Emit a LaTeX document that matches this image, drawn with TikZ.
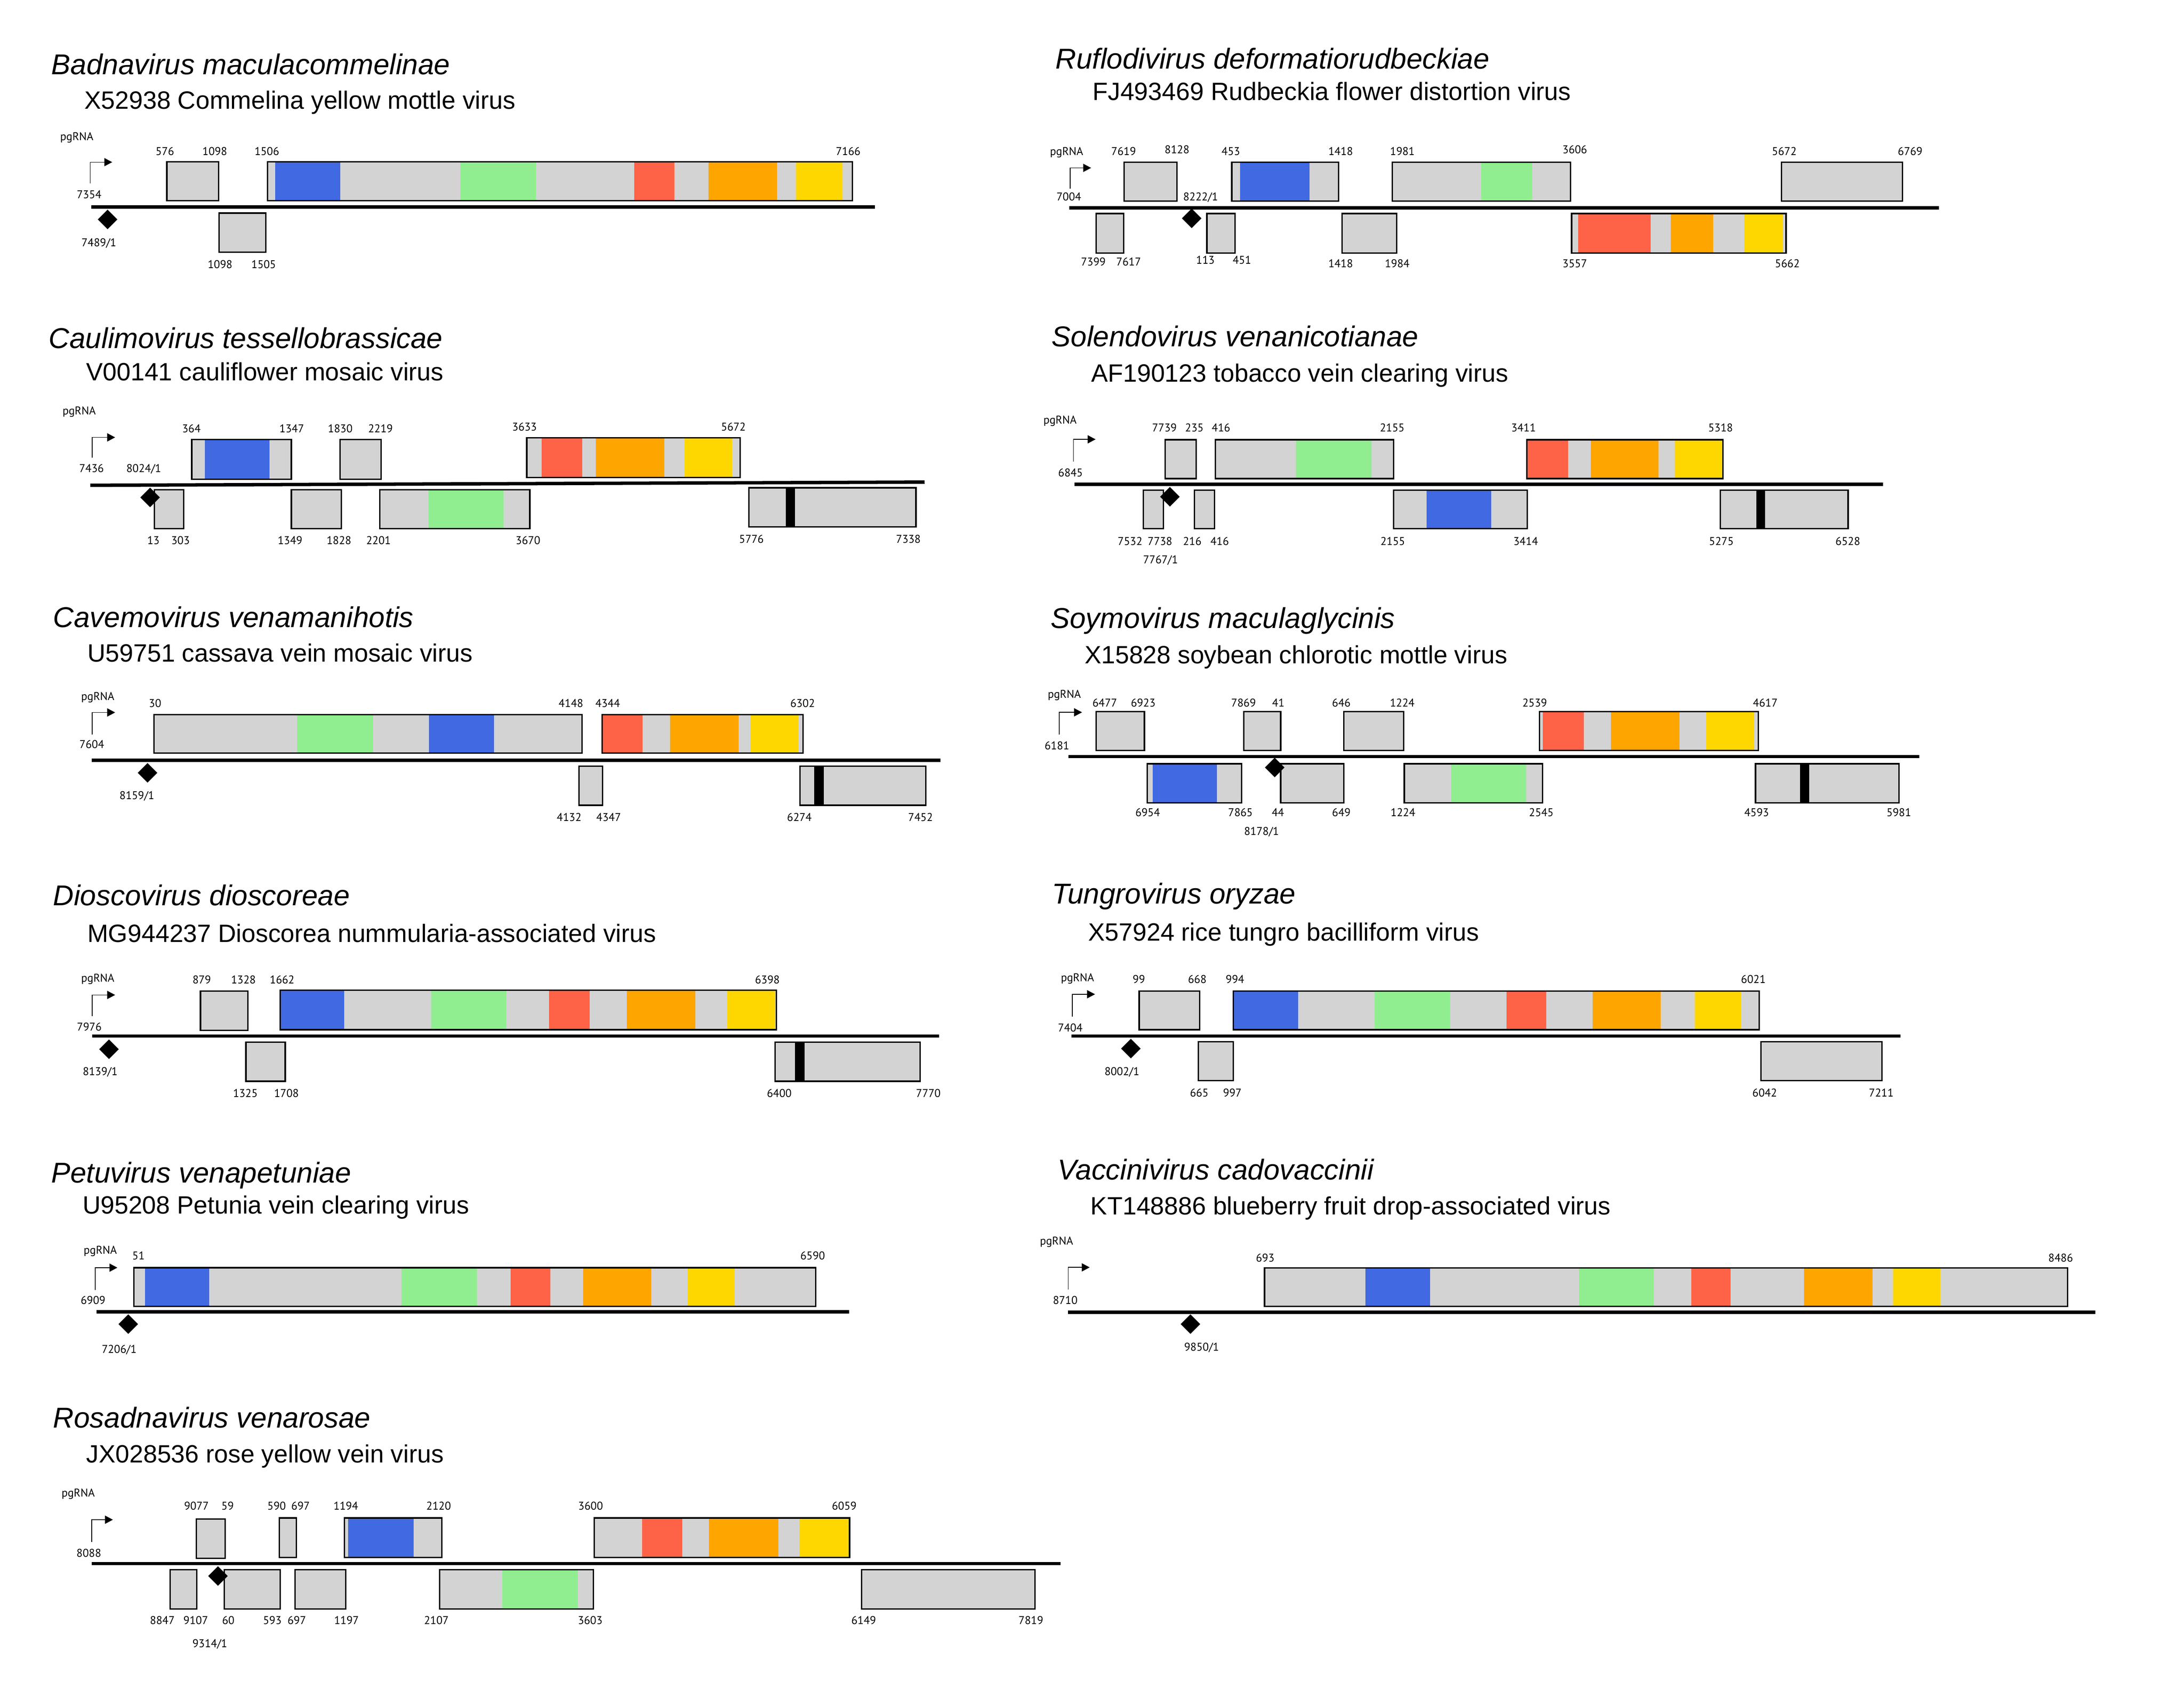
\documentclass[tikz,border=0pt]{standalone}
\usepackage{fontspec}
\setmainfont{Liberation Sans}
\newfontfamily\labfont{PT Sans}
\usetikzlibrary{arrows.meta}
\definecolor{cblue}{HTML}{4169E1}
\definecolor{cgreen}{HTML}{90EE90}
\definecolor{cred}{HTML}{FF6347}
\definecolor{corange}{HTML}{FFA500}
\definecolor{cyellow}{HTML}{FFD700}
\definecolor{cgrey}{HTML}{D3D3D3}
\definecolor{cblack}{HTML}{000000}
\tikzset{
  genome/.style={line width=2.4pt},
  orfline/.style={draw=black, line width=1pt},
  promoter/.style={line width=0.5pt, -{Triangle[length=5.6pt,width=5.8pt]}},
  species/.style={font=\fontsize{20.3}{24}\selectfont\itshape, anchor=base west, inner sep=0pt},
  isolate/.style={font=\fontsize{17.7}{21}\selectfont, anchor=base west, inner sep=0pt},
  numlab/.style={font=\labfont\fontsize{8}{9.6}\selectfont, anchor=base, inner sep=0pt},
  rnalab/.style={numlab, anchor=base west},
}
\newcounter{lc}
\newcommand{\Orf}[4]{\fill[cgrey] (#1,#3) rectangle (#2,#4); \draw[orfline] (#1,#3) rectangle (#2,#4);}
\newcommand{\OrfS}[5]{\fill[cgrey] (#1,#3) rectangle (#2,#4);
  \foreach \cc/\aa/\bb in {#5}{\fill[\cc] (\aa,#3) rectangle (\bb,#4);}
  \draw[orfline] (#1,#3) rectangle (#2,#4);}
\newcommand{\Lab}[3]{\stepcounter{lc}\node[numlab] (lab\arabic{lc}) at (#1,#2) {#3};}
\newcommand{\Tss}[2]{\fill (#1,#2-7) -- (#1+7,#2) -- (#1,#2+7) -- (#1-7,#2) -- cycle;}
\begin{document}
\begin{tikzpicture}[x=1pt,y=-1pt]
\fill[white] (0,0) rectangle (1545.1,1195.7);
\useasboundingbox (0,0) rectangle (1545.1,1195.7);

% ---------- Panel 1: Badnavirus ----------
\begin{scope}[shift={(0,0.282)},scale=0.98852]
\node[species] (t1) at (36.6,53.0) {Badnavirus maculacommelinae};
\node[isolate] (s1) at (60.3,77.6) {X52938 Commelina yellow mottle virus};
\node[rnalab] (r1) at (42.9,100.3) {pgRNA};
\draw[promoter] (64.5,131.1) |- (80.3,115.8);
\Lab{63.8}{141.7}{7354}
\draw[genome] (65.3,148.0) -- (626,148.0);
\Lab{70.8}{176.1}{7489/1}
\Orf{119.4}{156.4}{115.6}{143.4}
\OrfS{191.4}{610}{115.6}{143.4}{cblue/196.8/243.4, cgreen/329.5/383.6, cred/454/482.6, corange/507/556, cyellow/569.5/603}
\Orf{156.8}{190.1}{152.3}{180.3}
\Lab{118}{110.7}{576}\Lab{153.7}{110.7}{1098}\Lab{191}{110.7}{1506}\Lab{607}{110.7}{7166}
\Lab{157.5}{191.9}{1098}\Lab{188.7}{191.9}{1505}
\Tss{77}{156.8}
\end{scope}

% ---------- Panel 2: Ruflodivirus ----------
\begin{scope}[shift={(8.458,0.282)},scale=0.98852]
\node[species] (t2) at (746.8,49.0) {Ruflodivirus deformatiorudbeckiae};
\node[isolate] (s2) at (773.2,71.4) {FJ493469 Rudbeckia flower distortion virus};
\node[rnalab] (r2) at (742.7,110.7) {pgRNA};
\draw[promoter] (757.3,134.8) |- (772.3,119.9);
\Lab{756.4}{143.5}{7004}\Lab{850.7}{143.5}{8222/1}
\draw[genome] (756.8,148.4) -- (1379.1,148.4);
\Orf{796.0}{833.8}{115.8}{143.6}
\OrfS{873}{949.5}{115.8}{143.6}{cblue/878.9/928.6}
\OrfS{987.8}{1115.3}{115.8}{143.6}{cgreen/1051.5/1088}
\Orf{1266.5}{1353.1}{115.8}{143.6}
\Lab{795.6}{110.7}{7619}\Lab{833.8}{109.6}{8128}\Lab{872.3}{110.7}{453}\Lab{950.9}{110.7}{1418}
\Lab{995.1}{110.7}{1981}\Lab{1118.5}{109.6}{3606}\Lab{1268.4}{110.7}{5672}\Lab{1358.5}{110.7}{6769}
\Orf{776}{795.6}{152.6}{180.8}
\Orf{855.2}{875.3}{152.6}{180.8}
\Orf{951.8}{991}{152.6}{180.8}
\OrfS{1116.2}{1269.7}{152.6}{180.8}{cred/1120.8/1172.7, corange/1187.3/1217.4, cyellow/1239.7/1267.5}
\Lab{773.9}{190.0}{7399}\Lab{799.2}{190.0}{7617}\Lab{854.1}{188.6}{113}\Lab{880.3}{188.6}{451}
\Lab{950.9}{191.1}{1418}\Lab{991.4}{191.1}{1984}\Lab{1118.5}{191.1}{3557}\Lab{1270.6}{191.1}{5662}
\Tss{844.3}{156.0}
\end{scope}

% ---------- Panel 3: Caulimovirus ----------
\begin{scope}[shift={(0,2.573)},scale=0.98852]
\node[species] (t3) at (34.8,246.7) {Caulimovirus tessellobrassicae};
\node[isolate] (s3) at (61.5,269.8) {V00141 cauliflower mosaic virus};
\node[rnalab] (r3) at (44.6,294.1) {pgRNA};
\draw[promoter] (65.9,325.1) |- (82.4,310.5);
\Lab{65.5}{335.6}{7436}\Lab{102.9}{335.6}{8024/1}
\draw[genome] (64.6,344.8) -- (661.7,342.5);
\OrfS{137.2}{208.5}{312.1}{340.4}{cblue/146.6/192.9}
\Orf{243.3}{272.7}{312.1}{340.4}
\OrfS{377}{529.8}{310.9}{339.2}{cred/387.7/416.6, corange/426.4/475.5, cyellow/489.7/524}
\Lab{137}{307.1}{364}\Lab{208.8}{307.1}{1347}\Lab{243.5}{307.1}{1830}\Lab{272.3}{307.1}{2219}
\Lab{375.4}{305.9}{3633}\Lab{524.9}{305.9}{5672}
\Orf{110.5}{131.5}{347.9}{375.9}
\Orf{208.5}{244.2}{347.9}{375.9}
\OrfS{271.8}{379.2}{347.9}{375.9}{cgreen/306.6/360.5}
\OrfS{536}{655.5}{346.6}{374.6}{cblack/562.3/569}
\Lab{109.8}{387.2}{13}\Lab{129.2}{387.2}{303}\Lab{207.6}{387.2}{1349}\Lab{242.6}{387.2}{1828}
\Lab{270.9}{387.2}{2201}\Lab{377.9}{387.2}{3670}\Lab{537.8}{386.1}{5776}\Lab{650.1}{386.1}{7338}
\Tss{107.4}{353.5}
\end{scope}

% ---------- Panel 4: Solendovirus ----------
\begin{scope}[shift={(8.458,2.573)},scale=0.98852]
\node[species] (t4) at (743.9,245.5) {Solendovirus venanicotianae};
\node[isolate] (s4) at (772.2,270.9) {AF190123 tobacco vein clearing virus};
\node[rnalab] (r4) at (738.0,300.9) {pgRNA};
\draw[promoter] (759.7,327.9) |- (775.5,311.9);
\Lab{757.6}{338.7}{6845}
\draw[genome] (760.5,344.0) -- (1339,344.0);
\Lab{822}{400.8}{7767/1}
\Orf{825.4}{847.4}{312.2}{340.0}
\OrfS{861.2}{988.8}{312.2}{340.0}{cgreen/919/973}
\OrfS{1084.1}{1224.6}{312.2}{340.0}{cred/1084.1/1113.6, corange/1129.8/1178.5, cyellow/1190.1/1224.6}
\Lab{824.8}{306.5}{7739}\Lab{846.2}{306.5}{235}\Lab{865.3}{306.5}{416}\Lab{987.8}{306.5}{2155}
\Lab{1081.8}{306.5}{3411}\Lab{1222.8}{306.5}{5318}
\Orf{809.6}{824.1}{348.3}{375.9}
\Orf{846.2}{860.7}{348.3}{375.9}
\OrfS{988.8}{1084.5}{348.3}{375.9}{cblue/1012.5/1058.7}
\OrfS{1222.6}{1314.1}{348.3}{375.9}{cblack/1248.4/1254.6}
\Lab{800.2}{387.6}{7532}\Lab{821.6}{387.6}{7738}\Lab{844.7}{387.6}{216}\Lab{864.3}{387.6}{416}
\Lab{988.2}{387.6}{2155}\Lab{1083.4}{387.6}{3414}\Lab{1223.4}{387.6}{5275}\Lab{1313.9}{387.6}{6528}
\Tss{828.7}{353.0}
\end{scope}

% ---------- Panel 5: Cavemovirus ----------
\begin{scope}[shift={(0,4.863)},scale=0.98852]
\node[species] (t5) at (37.9,444.1) {Cavemovirus venamanihotis};
\node[isolate] (s5) at (62.4,468.8) {U59751 cassava vein mosaic virus};
\node[rnalab] (r5) at (57.9,496.4) {pgRNA};
\draw[promoter] (65.9,520.9) |- (82.4,505.1);
\Lab{65.7}{530.8}{7604}
\draw[genome] (65.5,539.3) -- (672.9,539.3);
\Lab{98}{567.2}{8159/1}
\OrfS{110.1}{416.6}{506.6}{534.2}{cgreen/212.5/266.9, cblue/307/353.4}
\OrfS{430.9}{574.8}{506.6}{534.2}{cred/430.9/459.9, corange/479.5/528.5, cyellow/537/571.3}
\Lab{111}{501.5}{30}\Lab{408.6}{501.5}{4148}\Lab{434.9}{501.5}{4344}\Lab{574.4}{501.5}{6302}
\Orf{414.4}{431.3}{543.5}{571.5}
\OrfS{572.6}{662.6}{543.5}{571.5}{cblack/582.8/589.5}
\Lab{407.3}{582.8}{4132}\Lab{435.6}{582.8}{4347}\Lab{572.1}{582.8}{6274}\Lab{658.8}{582.8}{7452}
\Tss{105.6}{548.3}
\end{scope}

% ---------- Panel 6: Soymovirus ----------
\begin{scope}[shift={(8.458,4.863)},scale=0.98852]
\node[species] (t6) at (743.2,444.8) {Soymovirus maculaglycinis};
\node[isolate] (s6) at (767.5,470.0) {X15828 soybean chlorotic mottle virus};
\node[rnalab] (r6) at (741.1,494.9) {pgRNA};
\draw[promoter] (749.6,520.8) |- (765.8,505.0);
\Lab{747.9}{531.7}{6181}
\draw[genome] (756,536.7) -- (1364.9,536.7);
\Lab{894.3}{592.9}{8178/1}
\Orf{776}{810.5}{504.4}{532.3}
\Orf{881.6}{908}{504.4}{532.3}
\Orf{953.1}{996.1}{504.4}{532.3}
\OrfS{1093.2}{1249.9}{504.4}{532.3}{cred/1095.7/1125.1, corange/1144.3/1193.3, cyellow/1212.4/1246.9}
\Lab{782.1}{501.1}{6477}\Lab{809.6}{501.1}{6923}\Lab{881.4}{501.1}{7869}\Lab{906.3}{501.1}{41}
\Lab{951.4}{501.1}{646}\Lab{995}{501.1}{1224}\Lab{1089.8}{501.1}{2539}\Lab{1254.8}{501.1}{4617}
\OrfS{812.6}{879.9}{541.8}{569.8}{cblue/816.4/862.4}
\Orf{908}{953.1}{541.8}{569.8}
\OrfS{996.5}{1095.3}{541.8}{569.8}{cgreen/1029.8/1083.8}
\OrfS{1247.8}{1350.4}{541.8}{569.8}{cblack/1279.7/1286.1}
\Lab{812.8}{579.5}{6954}\Lab{879.2}{579.5}{7865}\Lab{906}{579.5}{44}\Lab{951.4}{579.5}{649}
\Lab{995.5}{579.5}{1224}\Lab{1094.5}{579.5}{2545}\Lab{1248.6}{579.5}{4593}\Lab{1350.4}{579.5}{5981}
\Tss{903.7}{544.5}
\end{scope}

% ---------- Panel 7: Dioscovirus ----------
\begin{scope}[shift={(0,7.154)},scale=0.98852]
\node[species] (t7) at (37.9,640.9) {Dioscovirus dioscoreae};
\node[isolate] (s7) at (62.4,667.3) {MG944237 Dioscorea nummularia-associated virus};
\node[rnalab] (r7) at (57.9,695.8) {pgRNA};
\draw[promoter] (65.9,720.2) |- (82.4,705.0);
\Lab{63.9}{730.6}{7976}
\draw[genome] (65.9,734.4) -- (672,734.4);
\Lab{71.7}{762.4}{8139/1}
\Orf{143.5}{177.3}{702.3}{730.4}
\OrfS{200.5}{555.7}{701.7}{729.9}{cblue/200.5/246.4, cgreen/308.4/362.3, cred/393/422, corange/448.7/497.7, cyellow/520.5/554.8}
\Lab{144.4}{697}{879}\Lab{174.2}{697}{1328}\Lab{201.9}{697}{1662}\Lab{549.2}{697}{6398}
\Orf{176}{204.1}{738.8}{766.8}
\OrfS{554.8}{658.6}{738.8}{766.8}{cblack/569/575.7}
\Lab{175.6}{778.3}{1325}\Lab{205}{778.3}{1708}\Lab{557.7}{778.3}{6400}\Lab{664.4}{778.3}{7770}
\Tss{78}{743.9}
\end{scope}

% ---------- Panel 8: Tungrovirus ----------
\begin{scope}[shift={(8.458,7.154)},scale=0.98852]
\node[species] (t8) at (744.3,639.8) {Tungrovirus oryzae};
\node[isolate] (s8) at (770.1,666.2) {X57924 rice tungro bacilliform virus};
\node[rnalab] (r8) at (750.5,695.3) {pgRNA};
\draw[promoter] (758.8,720.5) |- (775.1,704.5);
\Lab{757.4}{731.3}{7404}
\draw[genome] (758.4,734.4) -- (1351.5,734.4);
\Lab{794.4}{762.4}{8002/1}
\Orf{806.7}{849.9}{702.2}{729.9}
\OrfS{874}{1250.4}{702.2}{729.9}{cblue/874/920.6, cgreen/975.1/1029.2, cred/1069.5/1098.2, corange/1131.1/1180.1, cyellow/1204.3/1237.5}
\Lab{806.5}{696.6}{99}\Lab{848.3}{696.6}{668}\Lab{875.3}{696.6}{994}\Lab{1246.3}{696.6}{6021}
\Orf{849.1}{874}{738.5}{766.3}
\Orf{1251.7}{1338.2}{738.5}{766.3}
\Lab{849.7}{777.9}{665}\Lab{873.4}{777.9}{997}\Lab{1254.4}{777.9}{6042}\Lab{1337.8}{777.9}{7211}
\Tss{800.8}{743.4}
\end{scope}

% ---------- Panel 9: Petuvirus ----------
\begin{scope}[shift={(0,9.445)},scale=0.98852]
\node[species] (t9) at (36.5,837.1) {Petuvirus venapetuniae};
\node[isolate] (s9) at (58.9,859.3) {U95208 Petunia vein clearing virus};
\node[rnalab] (r9) at (59.7,888.1) {pgRNA};
\draw[promoter] (68.2,913.8) |- (84,897.9);
\Lab{66.6}{924.1}{6909}
\draw[genome] (69,929.6) -- (607.8,929.6);
\Lab{85.3}{959.2}{7206/1}
\OrfS{95.8}{583.8}{897.9}{925.7}{cblue/103.9/149.8, cgreen/287.4/341.4, cred/365.4/393.8, corange/417.4/466.1, cyellow/492.1/525.8}
\Lab{99.1}{892.2}{51}\Lab{581.6}{892.2}{6590}
\Tss{91.8}{938.3}
\end{scope}

% ---------- Panel 10: Vaccinivirus ----------
\begin{scope}[shift={(8.458,9.445)},scale=0.98852]
\node[species] (t10) at (748.1,834.9) {Vaccinivirus cadovaccinii};
\node[isolate] (s10) at (771.8,859.8) {KT148886 blueberry fruit drop-associated virus};
\node[rnalab] (r10) at (735.5,881.4) {pgRNA};
\draw[promoter] (755.9,913.5) |- (771.3,897.7);
\Lab{753.8}{924.1}{8710}
\draw[genome] (755.9,929.8) -- (1491.1,929.8);
\Lab{851.4}{957.6}{9850/1}
\OrfS{896.4}{1471.1}{898.1}{925.7}{cblue/968.5/1014.9, cgreen/1121.4/1175, cred/1201.8/1230.1, corange/1282.6/1331.5, cyellow/1346.4/1379.9}
\Lab{896.9}{893.8}{693}\Lab{1466.2}{893.8}{8486}
\Tss{843.4}{938.3}
\end{scope}

% ---------- Panel 11: Rosadnavirus ----------
\begin{scope}[shift={(0,11.454)},scale=0.98852]
\node[species] (t11) at (37.9,1010.4) {Rosadnavirus venarosae};
\node[isolate] (s11) at (61.6,1035.5) {JX028536 rose yellow vein virus};
\node[rnalab] (r11) at (43.9,1059.8) {pgRNA};
\draw[promoter] (65.7,1092.1) |- (80.8,1076.3);
\Lab{63.6}{1102.9}{8088}
\draw[genome] (65.7,1107.7) -- (759,1107.7);
\Lab{150.2}{1167.6}{9314/1}
\Orf{140.4}{161.1}{1075.9}{1103.9}
\Orf{200}{212.1}{1075}{1103.2}
\OrfS{246.4}{316.1}{1075}{1103.2}{cblue/249/295.9}
\OrfS{425.2}{608}{1075}{1103.2}{cred/459.6/488.3, corange/507.5/557, cyellow/572.2/607}
\Lab{140.6}{1069.3}{9077}\Lab{162.9}{1069.3}{59}\Lab{198}{1069.3}{590}\Lab{215.1}{1069.3}{697}
\Lab{247.5}{1069.3}{1194}\Lab{313.9}{1069.3}{2120}\Lab{422.7}{1069.3}{3600}\Lab{604.2}{1069.3}{6059}
\Orf{121.7}{140.9}{1112}{1140.3}
\Orf{160.6}{200.5}{1112}{1140.3}
\Orf{211.1}{247.5}{1112}{1140.3}
\OrfS{314.6}{424.7}{1112}{1140.3}{cgreen/359.6/413.6}
\Orf{616.6}{740.8}{1112}{1140.3}
\Lab{116.2}{1151.1}{8847}\Lab{140.1}{1151.1}{9107}\Lab{163.4}{1151.1}{60}\Lab{194.9}{1151.1}{593}
\Lab{212.4}{1151.1}{697}\Lab{248}{1151.1}{1197}\Lab{312.3}{1151.1}{2107}\Lab{422.4}{1151.1}{3603}
\Lab{618.1}{1151.1}{6149}\Lab{737.8}{1151.1}{7819}
\Tss{156}{1116.6}
\end{scope}
\end{tikzpicture}
\end{document}
